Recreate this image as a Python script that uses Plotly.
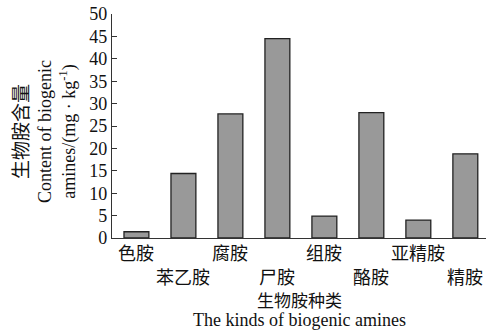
import plotly.graph_objects as go

categories = ["色胺", "苯乙胺", "腐胺", "尸胺", "组胺", "酪胺", "亚精胺", "精胺"]
values = [1.4, 14.4, 27.7, 44.5, 4.9, 28.0, 4.0, 18.8]
y_ticks = [0, 5, 10, 15, 20, 25, 30, 35, 40, 45, 50]

serif = "Liberation Serif, Times New Roman, serif"
cjk = "Noto Sans CJK SC, serif"

x_idx = list(range(len(categories)))

fig = go.Figure(go.Bar(
    x=x_idx, y=values, width=0.53,
    marker=dict(color="#999999", line=dict(color="#222222", width=1.3)),
))

annotations = []
for i, c in enumerate(categories):
    annotations.append(dict(
        x=i, y=0, xref="x", yref="y", text=c, showarrow=False,
        yanchor="middle", yshift=-14 if i % 2 == 0 else -38,
        font=dict(family=cjk, size=18, color="#111"),
        borderpad=0,
    ))
annotations.append(dict(
    x=0.5, y=0, xref="paper", yref="paper", text="生物胺种类", showarrow=False,
    yanchor="middle", yshift=-61, font=dict(family=cjk, size=17, color="#111"),
    borderpad=0,
))
annotations.append(dict(
    x=0.5, y=0, xref="paper", yref="paper", text="The kinds of biogenic amines", showarrow=False,
    yanchor="middle", yshift=-82, font=dict(family=serif, size=18, color="#111"),
    borderpad=0,
))
annotations.append(dict(
    x=0, y=0.5, xref="paper", yref="paper",
    text="<span style='font-family:Noto Sans CJK SC;font-size:19px'>生物胺含量</span><br>Content of biogenic<br>amines/(mg · kg<sup>-1</sup>)",
    showarrow=False, textangle=-90, xanchor="center", yanchor="middle", xshift=-69, yshift=-6,
    font=dict(family=serif, size=18, color="#111"),
))

fig.update_layout(
    width=487, height=330,
    margin=dict(l=112, r=1, t=14, b=92),
    plot_bgcolor="white", paper_bgcolor="white",
    showlegend=False,
    annotations=annotations,
    xaxis=dict(
        range=[-0.52, 7.44], tickvals=x_idx, showticklabels=False, ticks="",
        showline=True, linecolor="#333", linewidth=1.3, showgrid=False, zeroline=False,
    ),
    yaxis=dict(
        range=[0, 50], tickvals=y_ticks, ticks="inside", ticklen=5, tickcolor="#333",
        showline=True, linecolor="#333", linewidth=1.3, showgrid=False, zeroline=False,
        tickfont=dict(family=serif, size=18, color="#111"),
    ),
)

fig.write_html("out.html", config={"displayModeBar": False},
               post_script="document.body.style.margin='0';document.body.style.overflow='hidden';")
